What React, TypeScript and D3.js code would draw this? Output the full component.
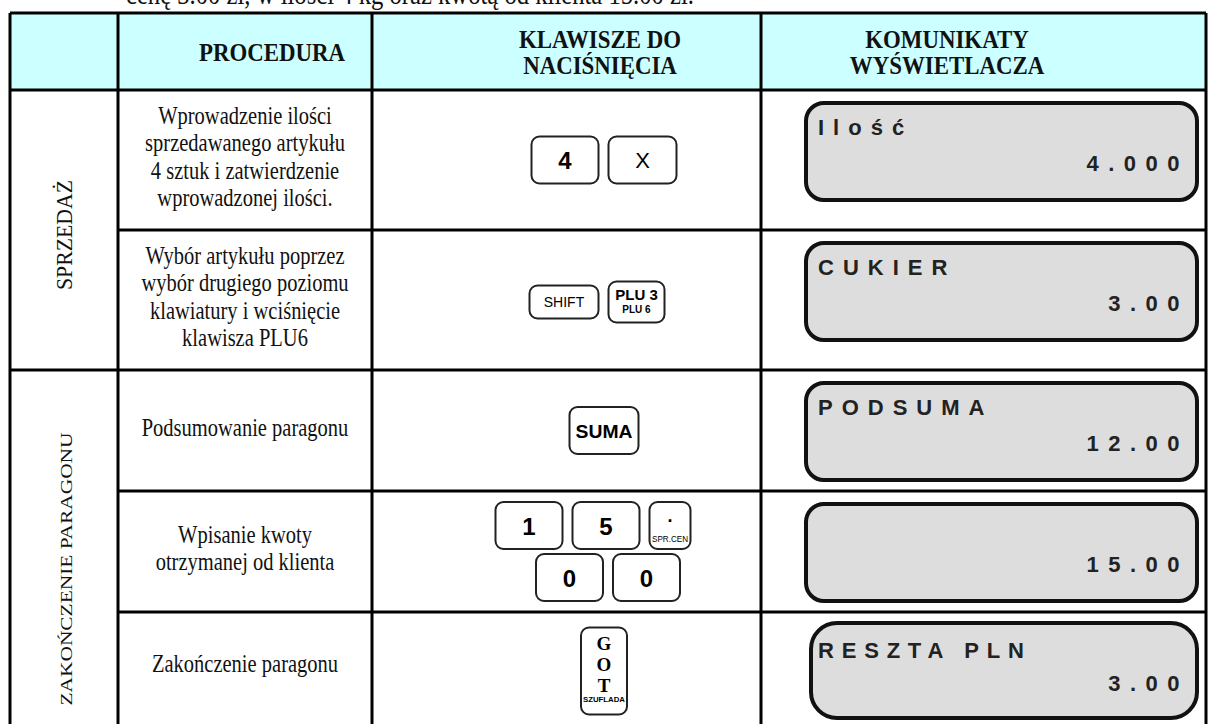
import * as d3 from 'd3';

// table content
const titleLine = 'cenę 3.00 zł, w ilości 4 kg oraz kwotą od klienta 15.00 zł.';
const headers = [[], ['PROCEDURA'], ['KLAWISZE DO', 'NACIŚNIĘCIA'], ['KOMUNIKATY', 'WYŚWIETLACZA']];
const sections = ['SPRZEDAŻ', 'ZAKOŃCZENIE PARAGONU'];
const sectionRows = [[0, 1], [2, 3, 4]];
const procedures = [
  ['Wprowadzenie ilości', 'sprzedawanego artykułu', '4 sztuk i zatwierdzenie', 'wprowadzonej ilości.'],
  ['Wybór artykułu poprzez', 'wybór drugiego poziomu', 'klawiatury i wciśnięcie', 'klawisza PLU6'],
  ['Podsumowanie paragonu'],
  ['Wpisanie kwoty', 'otrzymanej od klienta'],
  ['Zakończenie paragonu'],
];
// key rows per table row
type Key = { label: string; sub?: string; kind: string };
const keys: Key[][][] = [
  [[{ label: '4', kind: 'num' }, { label: 'X', kind: 'x' }]],
  [[{ label: 'SHIFT', kind: 'shift' }, { label: 'PLU 3', sub: 'PLU 6', kind: 'plu' }]],
  [[{ label: 'SUMA', kind: 'suma' }]],
  [
    [{ label: '1', kind: 'num' }, { label: '5', kind: 'num' }, { label: '.', sub: 'SPR.CEN', kind: 'dot' }],
    [{ label: '0', kind: 'num' }, { label: '0', kind: 'num' }],
  ],
  [[{ label: 'GOT', sub: 'SZUFLADA', kind: 'got' }]],
];
const displayTop = ['Ilość', 'CUKIER', 'PODSUMA', '', 'RESZTA PLN'];
const displayValue = ['4.000', '3.00', '12.00', '15.00', '3.00'];

// layout
const W = 1208;
const H = 724;
const colEdges = [10, 118, 372, 761, 1206];
const rowEdges = [13, 90, 230, 370, 491, 612, 722];
const headerCenters = [64, 272, 600, 947];
const serif = '"Liberation Serif", "Times New Roman", serif';
const sans = '"Liberation Sans", Arial, sans-serif';

const keySize: Record<string, [number, number]> = {
  num: [67, 47], x: [68, 47], shift: [69, 33], plu: [56, 41], suma: [69, 47], dot: [41, 47], got: [46, 87],
};

// squeezed serif text, as in the scanned table
function SText({ x, y, size, sx, bold, children }: any) {
  return (
    <text transform={`translate(${x},${y}) scale(${sx},1)`} textAnchor="middle" fontFamily={serif}
      fontWeight={bold ? 'bold' : 'normal'} fontSize={size} fill="#111">{children}</text>
  );
}

function KeyCap({ k, x, y }: { k: Key; x: number; y: number }) {
  const [w, h] = keySize[k.kind];
  const cx = x + w / 2;
  let content: any = null;
  if (k.kind === 'num') {
    content = <text x={cx} y={y + h / 2 + 9} textAnchor="middle" fontFamily={sans} fontWeight="bold" fontSize={24}>{k.label}</text>;
  } else if (k.kind === 'x') {
    content = <text x={cx} y={y + h / 2 + 8} textAnchor="middle" fontFamily={sans} fontSize={22}>{k.label}</text>;
  } else if (k.kind === 'shift') {
    content = <text x={cx} y={y + h / 2 + 5} textAnchor="middle" fontFamily={sans} fontSize={14}>{k.label}</text>;
  } else if (k.kind === 'plu') {
    content = (
      <>
        <text x={cx} y={y + 18} textAnchor="middle" fontFamily={sans} fontWeight="bold" fontSize={15}>{k.label}</text>
        <text x={cx} y={y + 31} textAnchor="middle" fontFamily={sans} fontWeight="bold" fontSize={10}>{k.sub}</text>
      </>
    );
  } else if (k.kind === 'suma') {
    content = <text x={cx} y={y + h / 2 + 7} textAnchor="middle" fontFamily={sans} fontWeight="bold" fontSize={19}
      textLength={57} lengthAdjust="spacingAndGlyphs">{k.label}</text>;
  } else if (k.kind === 'dot') {
    content = (
      <>
        <text x={cx} y={y + 20} textAnchor="middle" fontFamily={sans} fontWeight="bold" fontSize={18}>{k.label}</text>
        <text x={cx} y={y + 40} textAnchor="middle" fontFamily={sans} fontSize={9}
          textLength={w - 5} lengthAdjust="spacingAndGlyphs">{k.sub}</text>
      </>
    );
  } else if (k.kind === 'got') {
    content = (
      <>
        {k.label.split('').map((c, i) => (
          <text key={i} x={cx} y={y + 22 + i * 21} textAnchor="middle" fontFamily={serif} fontWeight="bold" fontSize={19}>{c}</text>
        ))}
        <text x={cx} y={y + 74} textAnchor="middle" fontFamily={sans} fontWeight="bold" fontSize={8}
          textLength={w - 4} lengthAdjust="spacingAndGlyphs">{k.sub}</text>
      </>
    );
  }
  return (
    <g>
      <rect x={x} y={y} width={w} height={h} rx={8} fill="#fff" stroke="#222" strokeWidth={2} />
      {content}
    </g>
  );
}

export default function App() {
  const colMid = d3.pairs(colEdges).map(([a, b]) => (a + b) / 2);
  const rows = d3.pairs(rowEdges.slice(1));
  const keyCenter = 604;
  const lineH = 27.5;

  return (
    <svg width={W} height={H} style={{ position: 'absolute', left: 0, top: 0, background: '#fff' }}>
      <SText x={410} y={4} size={29} sx={0.85}>{titleLine}</SText>

      {/* header */}
      <rect x={colEdges[0]} y={rowEdges[0]} width={colEdges[4] - colEdges[0]} height={rowEdges[1] - rowEdges[0]} fill="#ccffff" />
      {headers.map((lines, i) =>
        lines.map((t, j) => (
          <SText key={`${i}-${j}`} x={headerCenters[i]} y={(rowEdges[0] + rowEdges[1]) / 2 + 9 + (j - (lines.length - 1) / 2) * 26}
            size={26} sx={0.88} bold>{t}</SText>
        ))
      )}

      {/* procedures */}
      {procedures.map((lines, r) => {
        const [top, bot] = rows[r];
        const mid = (top + bot) / 2;
        return lines.map((t, j) => (
          <SText key={`p${r}-${j}`} x={colMid[1]} y={mid + 5 + (j - (lines.length - 1) / 2) * lineH}
            size={25} sx={0.82}>{t}</SText>
        ));
      })}

      {/* section labels */}
      {sections.map((s, i) => {
        const r = sectionRows[i];
        const top = rows[r[0]][0];
        const bot = rows[r[r.length - 1]][1];
        const cy = i === 0 ? (top + bot) / 2 + 5 : 569;
        return (
          <text key={s} transform={`translate(${colMid[0] + 8},${cy}) rotate(-90)`} textAnchor="middle"
            fontFamily={serif} fontSize={i === 0 ? 23 : 17} fill="#111"
            textLength={i === 0 ? 110 : 273} lengthAdjust="spacingAndGlyphs">{s}</text>
        );
      })}

      {/* keys */}
      {keys.map((lines, r) => {
        const [top, bot] = rows[r];
        const heights = lines.map((ln) => d3.max(ln, (k) => keySize[k.kind][1]) as number);
        const total = d3.sum(heights) + (lines.length - 1) * 5;
        let y0 = (top + bot) / 2 - total / 2 + (r === 4 ? 4 : r === 1 ? 2 : 0);
        return lines.map((ln, li) => {
          const widths = ln.map((k) => keySize[k.kind][0]);
          const tw = d3.sum(widths) + (ln.length - 1) * 10;
          const shift = r === 3 ? (li === 0 ? -11 : 4) : r === 1 ? -7 : 0;
          let x = keyCenter + shift - tw / 2;
          const ly = y0;
          y0 += heights[li] + 5;
          return ln.map((k, ki) => {
            const kx = x;
            x += widths[ki] + 10;
            const kh = keySize[k.kind][1];
            return <KeyCap key={`k${r}-${li}-${ki}`} k={k} x={kx} y={ly + (heights[li] - kh) / 2} />;
          });
        });
      })}

      {/* displays */}
      {displayValue.map((v, r) => {
        const [top] = rows[r];
        const last = r === 4;
        const dx0 = last ? 811 : 806;
        const dx1 = 1197;
        const dy0 = last ? top + 11 : top + 13;
        const dh = last ? 95 : 97;
        return (
          <g key={`d${r}`}>
            <rect x={dx0} y={dy0} width={dx1 - dx0} height={dh} rx={last ? 26 : 18} fill="#dddddd" stroke="#111" strokeWidth={4} />
            <text x={818} y={dy0 + (last ? 35 : 32)} fontFamily={sans} fontWeight="bold" fontSize={22}
              letterSpacing={last ? 7.8 : 9} fill="#222">{displayTop[r]}</text>
            <text x={1189} y={dy0 + 68} textAnchor="end" fontFamily={sans} fontWeight="bold" fontSize={22} letterSpacing={9.5} fill="#222">{v}</text>
          </g>
        );
      })}

      {/* grid lines */}
      <g stroke="#000" strokeWidth={3}>
        {colEdges.map((x, i) => (
          <line key={`c${i}`} x1={x} x2={x} y1={rowEdges[0]} y2={H + 5} />
        ))}
        <line x1={colEdges[0]} x2={colEdges[4]} y1={rowEdges[0]} y2={rowEdges[0]} />
        <line x1={colEdges[0]} x2={colEdges[4]} y1={rowEdges[1]} y2={rowEdges[1]} />
        {rowEdges.slice(2, 6).map((y, i) => {
          const full = y === rowEdges[3];
          return <line key={`r${i}`} x1={full ? colEdges[0] : colEdges[1]} x2={colEdges[4]} y1={y} y2={y} />;
        })}
      </g>
    </svg>
  );
}
